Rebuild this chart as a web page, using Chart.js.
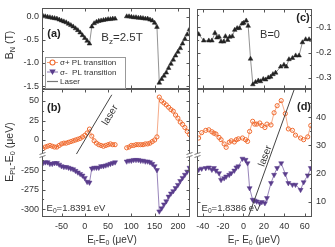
<!DOCTYPE html>
<html>
<head>
<meta charset="utf-8">
<script src="https://cdn.jsdelivr.net/npm/chart.js@4.4.0/dist/chart.umd.min.js"></script>
<style>
  html, body { margin: 0; padding: 0; background: #fff; }
  #wrap { position: relative; width: 335px; height: 247px; overflow: hidden;
          font-family: "Liberation Sans", Arial, sans-serif; color: #333; }
  #wrap canvas { position: absolute; left: 0; top: 0; }
  .lbl { position: absolute; white-space: nowrap; line-height: 1; transform: translate(-50%, -50%); }
  .lbl sub { font-size: 70%; line-height: 0; vertical-align: -0.3em; }
  .tag { font-weight: bold; font-size: 11px; color: #222; }
</style>
</head>
<body>
<div id="wrap">
  <canvas id="pa" width="335" height="247"></canvas>
  <canvas id="pb" width="335" height="247"></canvas>
  <canvas id="pc" width="335" height="247"></canvas>
  <canvas id="pd" width="335" height="247"></canvas>

  <div class="lbl" style="left:9px;top:45px;font-size:10.5px;transform:translate(-50%,-50%) rotate(-90deg)">B<sub>N</sub> (T)</div>
  <div class="lbl" style="left:9px;top:152px;font-size:10.5px;transform:translate(-50%,-50%) rotate(-90deg)">E<sub>PL</sub>-E<sub>0</sub> (&mu;eV)</div>
  <div class="lbl" style="left:112px;top:240px;font-size:10px">E<sub>l</sub>-E<sub>0</sub> (&mu;eV)</div>
  <div class="lbl" style="left:254px;top:240px;font-size:10px">E<sub>l</sub>- E<sub>0</sub> (&mu;eV)</div>

  <div class="lbl tag" style="left:54px;top:33px">(a)</div>
  <div class="lbl tag" style="left:54px;top:107px">(b)</div>
  <div class="lbl tag" style="left:303px;top:17px">(c)</div>
  <div class="lbl tag" style="left:304px;top:106px">(d)</div>

  <div class="lbl" style="left:122px;top:38px;font-size:11.5px">B<sub>z</sub>=2.5T</div>
  <div class="lbl" style="left:270px;top:34px;font-size:11px">B=0</div>
  <div class="lbl" style="left:76px;top:208px;font-size:9.5px">E<sub>0</sub>=1.8391 eV</div>
  <div class="lbl" style="left:231px;top:208px;font-size:9.5px">E<sub>0</sub>=1.8386 eV</div>
  <div class="lbl" style="left:110px;top:115px;font-size:10px;transform:translate(-50%,-50%) rotate(-59deg)">laser</div>
  <div class="lbl" style="left:265px;top:156px;font-size:10px;transform:translate(-50%,-50%) rotate(-69deg)">laser</div>
</div>

<script>
// ---- data: left panels (a), (b)  B_z = 2.5 T ----
const leftEnergy = [-90, -85, -80, -75, -70, -65, -60, -55, -50, -45, -40, -35, -30, -25, -20, -15, -10, -5, 0, 5, 10,
  15, 20, 25, 30, 35, 40, 45, 50, 55, 60, 65,
  75,
  90, 95, 100, 105, 110, 115, 120, 125, 130, 135, 140, 145, 150, 155,
  160, 165, 170, 175, 180, 185, 190, 195, 200, 205, 210, 215, 220, 225];
const fieldA = [0.02, 0.01, 0.00, -0.01, -0.02, -0.03, -0.04, -0.06, -0.08, -0.10, -0.12, -0.15, -0.18, -0.21, -0.25, -0.29, -0.34, -0.40, -0.46, -0.52, -0.58,
  -0.21, -0.14, -0.11, -0.09, -0.08, -0.07, -0.06, -0.05, -0.05, -0.04, -0.04,
  null,
  0.01, 0.01, 0.00, -0.01, -0.01, -0.02, -0.02, -0.03, -0.04, -0.04, -0.06, -0.08, -0.13, -0.22,
  -1.43, -1.35, -1.28, -1.21, -1.11, -1.02, -0.93, -0.84, -0.76, -0.68, -0.58, -0.48, -0.38, -0.27];
const sigmaPlusLeft = [-11, -9, -8, -7, -8, -9, -9, -7, -5, -4, -4, -3, -2, -1, 0, 1, 2, 4, 6, 9, 14,
  5, -1, -4, -6, -7, -8, -7, -6, -5, -6, -6,
  null,
  -10, -9, -7, -7, -6, -6, -6, -6, -5, -5, -4, -2, 0, 4,
  55, 50, 47.5, 45, 42, 39, 37, 32, 28, 23, 20, 16, 11, 7];
const sigmaMinusLeft = [-241, -240, -240, -242, -242, -241, -241, -243, -245, -246, -246, -247, -248, -249, -251, -253, -255, -257, -260, -265, -266,
  -248, -247, -247, -247, -245, -245, -244, -243, -242, -241, -240,
  null,
  -239, -238, -238, -237, -237, -237, -238, -238, -239, -239, -240, -242, -245, -250,
  -303, -299, -294, -290, -284, -280, -277, -273, -269, -264, -260, -256, -252, -247];

// ---- data: right panels (c), (d)  B = 0 ----
const fieldCEnergy = [-44, -39, -34, -31, -28, -26, -24, -22, -19.4, -17.7, -15.5, -13.5, -11, -8.6, -6.2, -4, -1.3, 0.3, 2.7, 4.6,
  6.9, 9.2, 11.8, 14.5, 16.7, 19.4, 21.7, 24.3, 26.6, 28.9, 31.5, 36.5, 39.7, 42, 44.6, 48, 51.2, 54.5, 57.8, 61, 64.3, 67];
const fieldC = [-0.128, -0.153, -0.153, -0.153, -0.123, -0.141, -0.138, -0.157, -0.157, -0.136, -0.151, -0.138, -0.136, -0.111, -0.104, -0.104, -0.086, -0.083, -0.074, -0.095,
  -0.225, -0.326, -0.317, -0.311, -0.314, -0.305, -0.307, -0.299, -0.296, -0.286, -0.280, -0.256, -0.249, -0.256, -0.227, -0.222, -0.212, -0.212, -0.160, -0.148, -0.148, -0.150];
const rightEnergy = [-44, -41, -37, -34, -31, -29, -27, -24, -22, -19, -17, -14, -12, -9, -7, -5, -1, 2, 4,
  6, 9, 11, 13, 16, 18, 21, 23, 27, 30, 33, 37, 41, 44, 48, 51, 56, 59, 63, 66];
const sigmaPlusRight = [32.6, 34.5, 35.3, 35.5, 34.8, 34.3, 34.0, 32.8, 32.0, 30.5, 29.3, 31.1, 31.6, 31.2, 32.0, 32.3, 32.6, 32.0, 31.4,
  34.9, 38.5, 37.5, 37.5, 37.9, 37.0, 36.3, 37.5, 37.2, 41.5, 44.0, 45.8, 41.2, 35.8, 35.3, 33.6, 32.6, 32.0, 33.0, 37.0];
const sigmaMinusRight = [21.4, 21.8, 22.0, 22.2, 21.4, 22.0, 21.1, 20.2, 17.8, 18.4, 19.0, 19.6, 20.2, 21.1, 22.2, 22.6, 25.3, 24.9, 23.7,
  14.9, 10.8, 10.5, 10.2, 9.6, 10.0, 9.6, 11.4, 16.7, 19.6, 22.0, 23.7, 19.9, 16.7, 16.1, 16.1, 14.3, 17.0, 19.4, 22.0];

// laser line E_PL = E_l
const laserLeft = [-18, 58];
const laserRight = [4, 52];

// tick labels
const leftXTicks = [-50, 0, 50, 100, 150, 200];
const rightXTicks = [-40, -20, 0, 20, 40, 60];
const fieldATicks = [0, -0.5, -1.0, -1.5];
const fieldCTicks = [-0.1, -0.2, -0.3];
const plUpperTicks = [50, 25, 0];
const plLowerTicks = [-250, -275, -300];
const plRightTicks = [40, 30, 20, 10];

// panel (b) has a broken axis: the lower part is shifted up
const BREAK_SHIFT = 211.5;

const ORANGE = '#f06a2e', ORANGE_LINE = '#f3946a';
const PURPLE = '#5a3d8c', PURPLE_LINE = '#7d66a8';
const FRAME = '#555';

Chart.defaults.font.family = '"Liberation Sans", Arial, sans-serif';
Chart.defaults.font.size = 9;
Chart.defaults.color = '#333';

const pts = (xs, ys, shift = 0) => xs.map((x, i) => ({ x, y: ys[i] == null ? null : ys[i] + shift }));

const fieldSet = data => ({
  data, showLine: true, spanGaps: false,
  borderColor: '#777', borderWidth: 0.8,
  pointStyle: 'triangle', pointRadius: 2.7,
  pointBackgroundColor: '#222', pointBorderColor: '#222', pointBorderWidth: 0.5
});
const plusSet = data => ({
  data, showLine: true, spanGaps: false,
  borderColor: ORANGE_LINE, borderWidth: 0.8,
  pointStyle: 'circle', pointRadius: 2.1,
  pointBackgroundColor: 'rgba(255,255,255,0)', pointBorderColor: ORANGE, pointBorderWidth: 1
});
const minusSet = data => ({
  data, showLine: true, spanGaps: false,
  borderColor: PURPLE_LINE, borderWidth: 0.8,
  pointStyle: 'triangle', pointRotation: 180, pointRadius: 2.9,
  pointBackgroundColor: PURPLE, pointBorderColor: PURPLE, pointBorderWidth: 0.5
});
const laserSet = ends => ({
  data: ends.map(v => ({ x: v, y: v })), showLine: true,
  borderColor: '#444', borderWidth: 1, pointRadius: 0
});

function fixedTicks(list) {
  return s => { s.ticks = list.map(v => ({ value: v })); };
}

function steps(min, max, step) {
  const out = [];
  for (let v = Math.ceil(min / step) * step; v <= max + 1e-9; v += step) out.push(v);
  return out;
}

// box around the plot with inward ticks on all sides, plus axis breaks
function framePlugin(cfg) {
  return {
    id: 'frame',
    afterDatasetsDraw(chart) {
      const { ctx, chartArea: a, scales } = chart;
      const L = Math.round(a.left) + 0.5, R = Math.round(a.right) - 0.5;
      const T = Math.round(a.top) + 0.5, B = Math.round(a.bottom) - 0.5;
      ctx.save();
      ctx.strokeStyle = FRAME;
      ctx.lineWidth = 1;
      ctx.strokeRect(L, T, R - L, B - T);
      ctx.beginPath();
      cfg.xTicks.forEach(([v, len]) => {
        const px = Math.round(scales.x.getPixelForValue(v)) + 0.5;
        if (px <= L || px >= R) return;
        ctx.moveTo(px, T); ctx.lineTo(px, T + len);
        ctx.moveTo(px, B); ctx.lineTo(px, B - len);
      });
      cfg.yTicks.forEach(([v, len]) => {
        const py = Math.round(scales.y.getPixelForValue(v)) + 0.5;
        if (py <= T || py >= B) return;
        ctx.moveTo(L, py); ctx.lineTo(L + len, py);
        ctx.moveTo(R, py); ctx.lineTo(R - len, py);
      });
      ctx.stroke();
      (cfg.breaks || []).forEach(([side, v]) => {
        const py = scales.y.getPixelForValue(v);
        const px = side === 'left' ? L : R;
        ctx.fillStyle = '#fff';
        ctx.fillRect(px - 3, py - 2, 6, 4);
        ctx.beginPath();
        ctx.moveTo(px - 3, py - 0.5); ctx.lineTo(px + 3, py - 2.5);
        ctx.moveTo(px - 3, py + 2.5); ctx.lineTo(px + 3, py + 0.5);
        ctx.lineWidth = 0.8;
        ctx.stroke();
      });
      ctx.restore();
    }
  };
}

function tickList(majors, minors) {
  return majors.map(v => [v, 3]).concat(minors.map(v => [v, 1.6]));
}

// legend drawn inside panel (a)
const legendPlugin = {
  id: 'sideLegend',
  afterDraw(chart) {
    const ctx = chart.ctx;
    ctx.save();
    ctx.fillStyle = '#fff';
    ctx.fillRect(45.5, 57.5, 80, 31);
    ctx.strokeStyle = '#999';
    ctx.lineWidth = 1;
    ctx.strokeRect(45.5, 57.5, 80, 31);
    const rows = [
      { y: 62.5, color: ORANGE, line: ORANGE_LINE, mark: 'circle', text: '\u03c3+ PL transition' },
      { y: 72, color: PURPLE, line: PURPLE_LINE, mark: 'tri', text: '\u03c3-  PL transition' },
      { y: 81.5, color: '#777', line: '#777', mark: null, text: 'Laser' }
    ];
    rows.forEach(r => {
      ctx.strokeStyle = r.line;
      ctx.lineWidth = r.mark ? 0.9 : 1.2;
      ctx.beginPath();
      ctx.moveTo(47, r.y); ctx.lineTo(58, r.y);
      ctx.stroke();
      if (r.mark === 'circle') {
        ctx.strokeStyle = r.color; ctx.lineWidth = 1.1;
        ctx.fillStyle = '#fff';
        ctx.beginPath(); ctx.arc(52.5, r.y, 2.5, 0, Math.PI * 2); ctx.fill(); ctx.stroke();
      } else if (r.mark === 'tri') {
        ctx.fillStyle = r.color;
        ctx.beginPath();
        ctx.moveTo(49.3, r.y - 2.4); ctx.lineTo(55.7, r.y - 2.4); ctx.lineTo(52.5, r.y + 3);
        ctx.closePath(); ctx.fill();
      }
      ctx.fillStyle = '#333';
      ctx.font = '8px "Liberation Sans", Arial, sans-serif';
      ctx.textBaseline = 'middle';
      ctx.textAlign = 'left';
      ctx.fillText(r.text, 60, r.y + 0.5);
    });
    ctx.restore();
  }
};

const baseOptions = (padding) => ({
  responsive: false,
  animation: false,
  devicePixelRatio: 1,
  layout: { padding },
  plugins: { legend: { display: false }, tooltip: { enabled: false } }
});
const hiddenGrid = { display: false, drawTicks: false };

// (a) nuclear field, B_z = 2.5 T
new Chart(document.getElementById('pa'), {
  type: 'scatter',
  data: { datasets: [fieldSet(pts(leftEnergy, fieldA))] },
  options: {
    ...baseOptions({ left: 8, top: 4, right: 145, bottom: 158 }),
    scales: {
      x: { type: 'linear', min: -92, max: 226, display: false },
      y: {
        type: 'linear', min: -1.564, max: 0.185,
        afterFit: s => { s.width = 34; },
        afterBuildTicks: fixedTicks(fieldATicks),
        ticks: { padding: 3, callback: v => v.toFixed(1) },
        grid: hiddenGrid, border: { display: false }
      }
    }
  },
  plugins: [framePlugin({
    xTicks: tickList(steps(-50, 200, 50), steps(-75, 225, 50)),
    yTicks: tickList(fieldATicks, [-0.25, -0.75, -1.25])
  }), legendPlugin]
});

// (b) PL energies, B_z = 2.5 T (broken y axis)
new Chart(document.getElementById('pb'), {
  type: 'scatter',
  data: {
    datasets: [
      laserSet(laserLeft),
      plusSet(pts(leftEnergy, sigmaPlusLeft)),
      minusSet(pts(leftEnergy, sigmaMinusLeft, BREAK_SHIFT))
    ]
  },
  options: {
    ...baseOptions({ left: 8, top: 89, right: 145, bottom: 10 }),
    scales: {
      x: {
        type: 'linear', min: -92, max: 226,
        afterFit: s => { s.height = 20; },
        afterBuildTicks: fixedTicks(leftXTicks),
        ticks: { padding: 4, maxRotation: 0 },
        grid: hiddenGrid, border: { display: false }
      },
      y: {
        type: 'linear', min: -98.7, max: 65.4,
        afterFit: s => { s.width = 34; },
        afterBuildTicks: fixedTicks(plUpperTicks.concat(plLowerTicks.map(v => v + BREAK_SHIFT))),
        ticks: { padding: 3, callback: v => String(Math.round(v < -20 ? v - BREAK_SHIFT : v)) },
        grid: hiddenGrid, border: { display: false }
      }
    }
  },
  plugins: [framePlugin({
    xTicks: tickList(steps(-50, 200, 50), steps(-75, 225, 50)),
    yTicks: tickList(plUpperTicks.concat(plLowerTicks.map(v => v + BREAK_SHIFT)),
      [62.5, 37.5, 12.5, -12.5, -237.5 + BREAK_SHIFT, -262.5 + BREAK_SHIFT, -287.5 + BREAK_SHIFT]),
    breaks: [['left', -19.2], ['right', -19.2]]
  })]
});

// (c) nuclear field, B = 0
new Chart(document.getElementById('pc'), {
  type: 'scatter',
  data: { datasets: [fieldSet(pts(fieldCEnergy, fieldC))] },
  options: {
    ...baseOptions({ left: 197, top: 4, right: 3, bottom: 158 }),
    scales: {
      x: { type: 'linear', min: -45.6, max: 67.2, display: false },
      y: {
        type: 'linear', position: 'right', min: -0.344, max: -0.0296,
        afterFit: s => { s.width = 20; },
        afterBuildTicks: fixedTicks(fieldCTicks),
        ticks: { padding: 4, callback: v => v.toFixed(1) },
        grid: hiddenGrid, border: { display: false }
      }
    }
  },
  plugins: [framePlugin({
    xTicks: tickList(steps(-40, 60, 20), steps(-30, 60, 20)),
    yTicks: tickList(fieldCTicks, [-0.05, -0.15, -0.25])
  })]
});

// (d) PL energies, B = 0
new Chart(document.getElementById('pd'), {
  type: 'scatter',
  data: {
    datasets: [
      laserSet(laserRight),
      plusSet(pts(rightEnergy, sigmaPlusRight)),
      minusSet(pts(rightEnergy, sigmaMinusRight))
    ]
  },
  options: {
    ...baseOptions({ left: 197, top: 89, right: 3, bottom: 10 }),
    scales: {
      x: {
        type: 'linear', min: -45.6, max: 67.2,
        afterFit: s => { s.height = 20; },
        afterBuildTicks: fixedTicks(rightXTicks),
        ticks: { padding: 4, maxRotation: 0 },
        grid: hiddenGrid, border: { display: false }
      },
      y: {
        type: 'linear', position: 'right', min: 4.7, max: 49.9,
        afterFit: s => { s.width = 20; },
        afterBuildTicks: fixedTicks(plRightTicks),
        ticks: { padding: 4 },
        grid: hiddenGrid, border: { display: false }
      }
    }
  },
  plugins: [framePlugin({
    xTicks: tickList(rightXTicks, steps(-30, 60, 20)),
    yTicks: tickList(plRightTicks, [5, 15, 25, 35, 45]),
    breaks: [['left', 26.6]]
  })]
});
</script>
</body>
</html>
